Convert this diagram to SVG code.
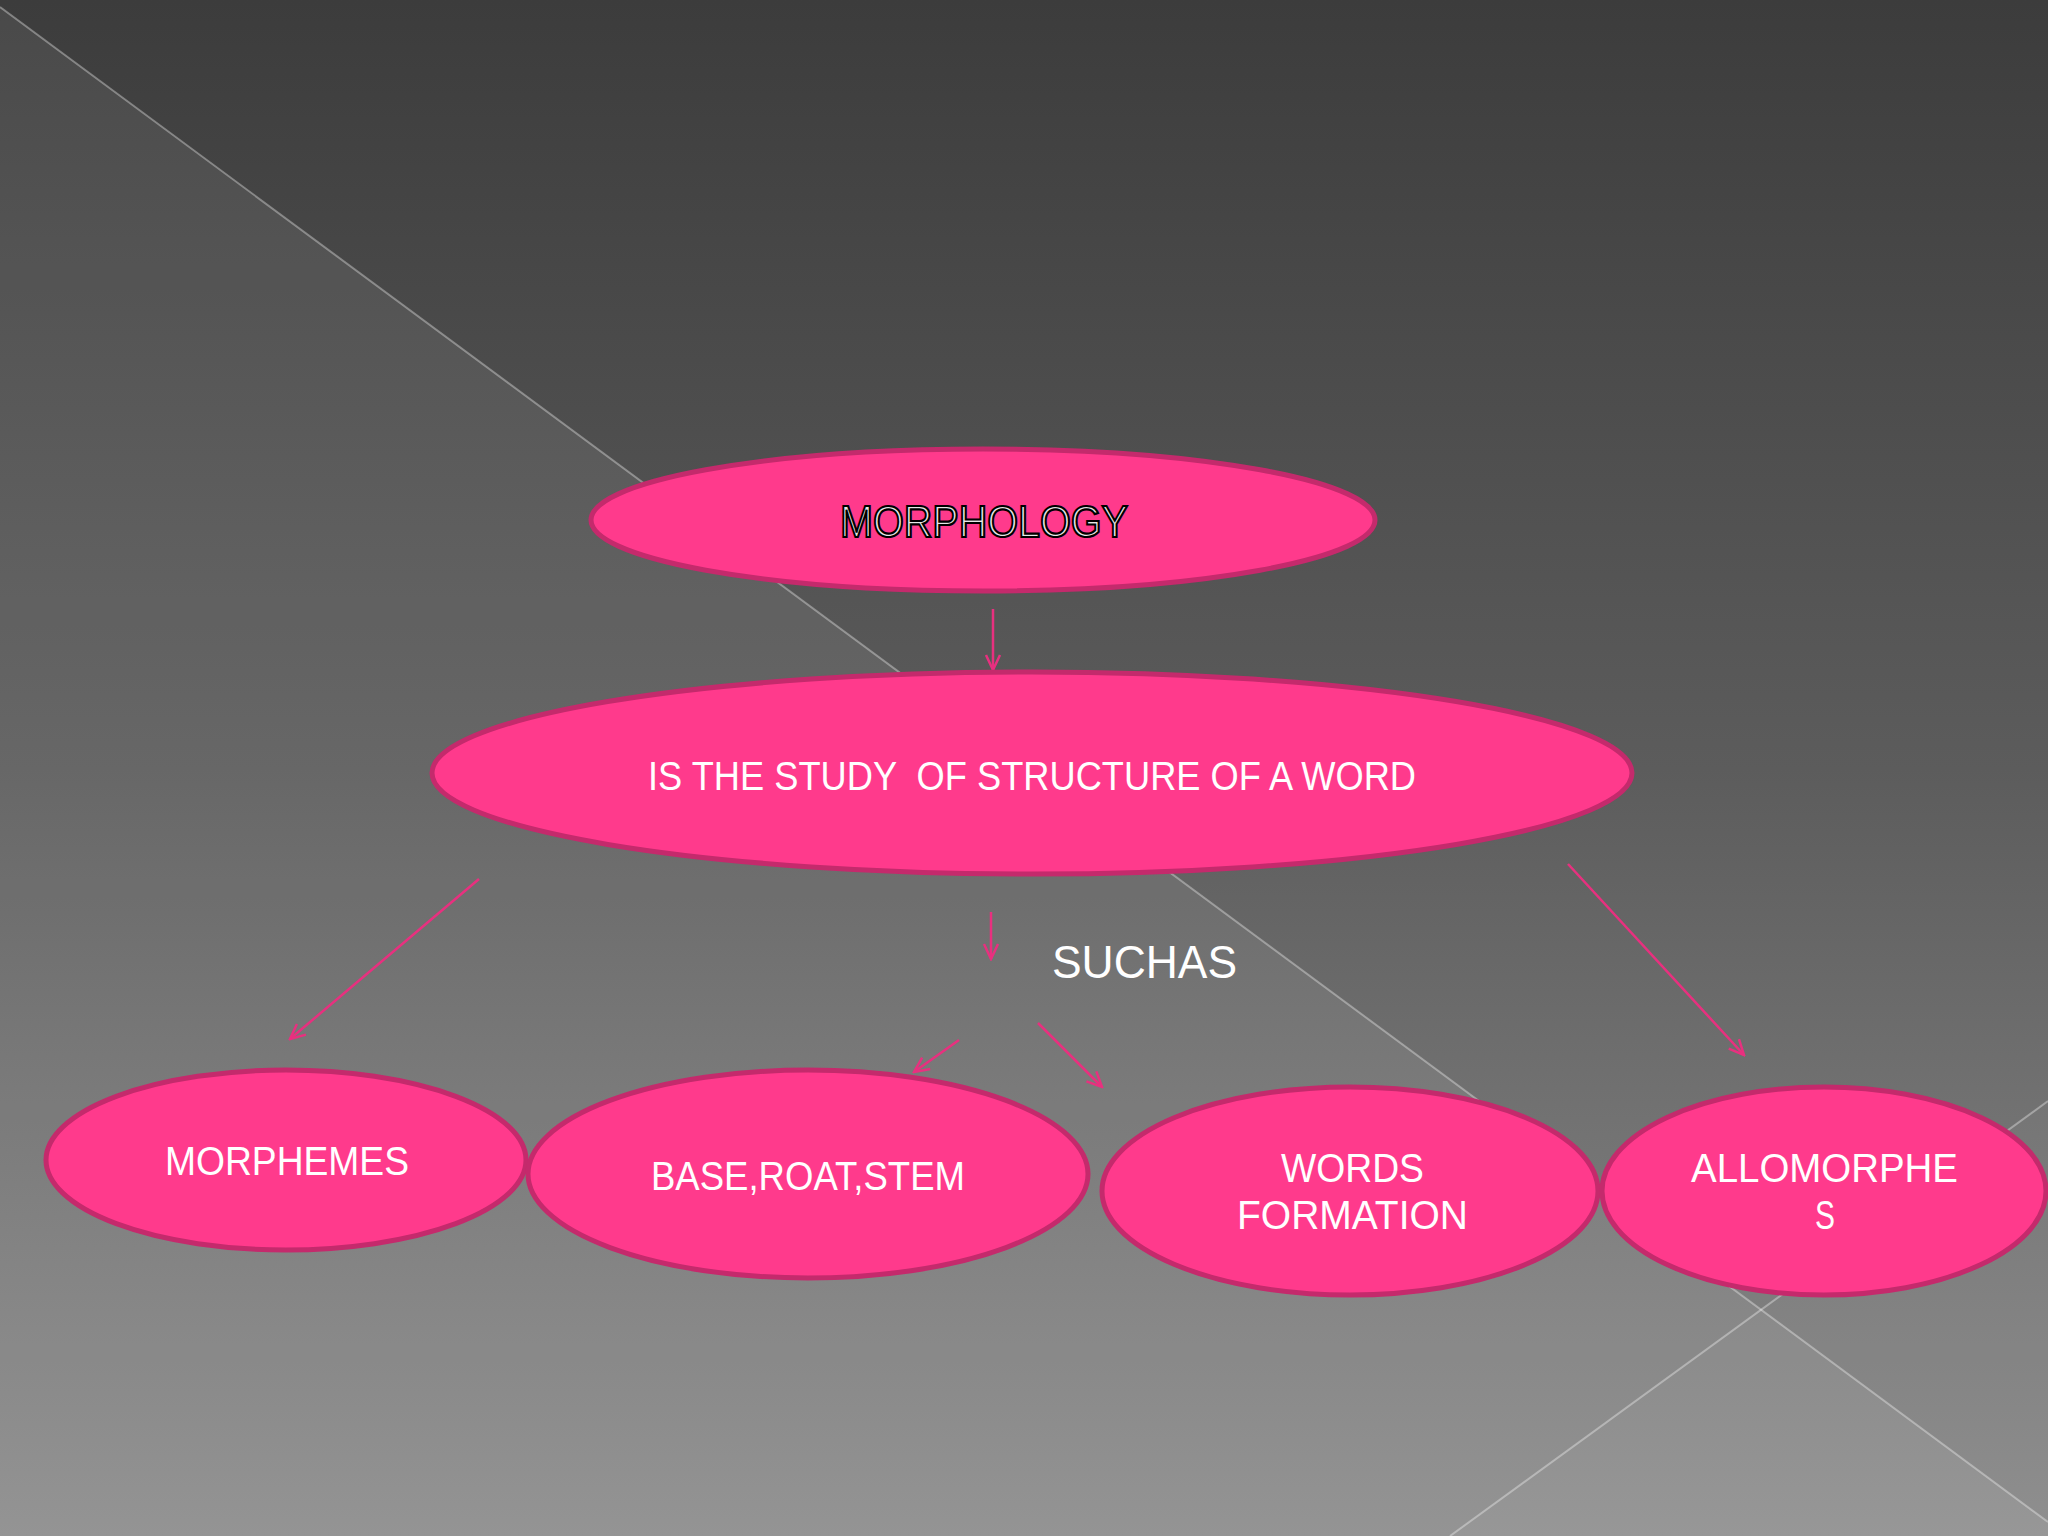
<svg xmlns="http://www.w3.org/2000/svg" width="2048" height="1536" viewBox="0 0 2048 1536">
<defs>
<linearGradient id="bg" x1="0" y1="0" x2="0" y2="1">
<stop offset="0" stop-color="#3c3c3c"/>
<stop offset="0.5" stop-color="#5c5c5c"/>
<stop offset="1" stop-color="#8c8c8c"/>
</linearGradient>
<marker id="ah" viewBox="0 0 20 20" refX="18" refY="10" markerWidth="20" markerHeight="20" markerUnits="userSpaceOnUse" orient="auto">
<path d="M3,3 L18,10 L3,17" fill="none" stroke="#E8307F" stroke-width="2.5"/>
</marker>
<style>
.node ellipse{fill:#FF3A8C;stroke:#C42A6C;stroke-width:5}
.lbl{font-family:"Liberation Sans",Arial,sans-serif;fill:#ffffff;text-anchor:start}
.conn line{stroke:#E8307F;stroke-width:2.5;marker-end:url(#ah)}
</style>
</defs>
<rect x="0" y="0" width="2048" height="1536" fill="url(#bg)"/>
<polygon points="0,7 2048,1522 2048,1536 0,1536" fill="#ffffff" fill-opacity="0.07"/>
<polygon points="1450,1536 2048,1101 2048,1536" fill="#ffffff" fill-opacity="0.03"/>
<line x1="0" y1="7" x2="2048" y2="1522" stroke="#ffffff" stroke-opacity="0.35" stroke-width="2"/>
<line x1="1450" y1="1536" x2="2048" y2="1101" stroke="#ffffff" stroke-opacity="0.35" stroke-width="2"/>

<g id="connectors" class="conn">
<line x1="993" y1="609" x2="993" y2="670"/>
<line x1="479" y1="879" x2="290" y2="1039"/>
<line x1="1568" y1="864" x2="1744" y2="1055"/>
<line x1="991" y1="912" x2="991" y2="959"/>
<line x1="959" y1="1040" x2="914" y2="1072"/>
<line x1="1038" y1="1023" x2="1102" y2="1087"/>
</g>

<g id="morphology" class="node">
<ellipse cx="983" cy="520" rx="392" ry="71"/>
<text x="840" y="537" font-size="44" textLength="288" lengthAdjust="spacingAndGlyphs" font-family="Liberation Sans, Arial, sans-serif" fill="#e8e8e8" stroke="#000000" stroke-width="2.2">MORPHOLOGY</text>
</g>

<g id="study" class="node">
<ellipse cx="1032" cy="773" rx="600" ry="101"/>
<text class="lbl" x="648" y="790" font-size="41" textLength="768" lengthAdjust="spacingAndGlyphs" xml:space="preserve" style="white-space:pre">IS THE STUDY  OF STRUCTURE OF A WORD</text>
</g>

<g id="suchas">
<text class="lbl" x="1052" y="978" font-size="47" textLength="185" lengthAdjust="spacingAndGlyphs">SUCHAS</text>
</g>

<g id="morphemes" class="node">
<ellipse cx="286" cy="1160" rx="240" ry="90"/>
<text class="lbl" x="165" y="1175" font-size="40" textLength="244" lengthAdjust="spacingAndGlyphs">MORPHEMES</text>
</g>

<g id="base" class="node">
<ellipse cx="808" cy="1174" rx="280" ry="104"/>
<text class="lbl" x="651" y="1190" font-size="40" textLength="314" lengthAdjust="spacingAndGlyphs">BASE,ROAT,STEM</text>
</g>

<g id="words" class="node">
<ellipse cx="1350" cy="1191" rx="248" ry="104"/>
<text class="lbl" x="1281" y="1182" font-size="40" textLength="143" lengthAdjust="spacingAndGlyphs">WORDS</text>
<text class="lbl" x="1237" y="1229" font-size="40" textLength="231" lengthAdjust="spacingAndGlyphs">FORMATION</text>
</g>

<g id="allomorphes" class="node">
<ellipse cx="1824" cy="1191" rx="222" ry="104"/>
<text class="lbl" x="1691" y="1182" font-size="40" textLength="267" lengthAdjust="spacingAndGlyphs">ALLOMORPHE</text>
<text class="lbl" x="1815" y="1229" font-size="40" textLength="20" lengthAdjust="spacingAndGlyphs">S</text>
</g>
</svg>
